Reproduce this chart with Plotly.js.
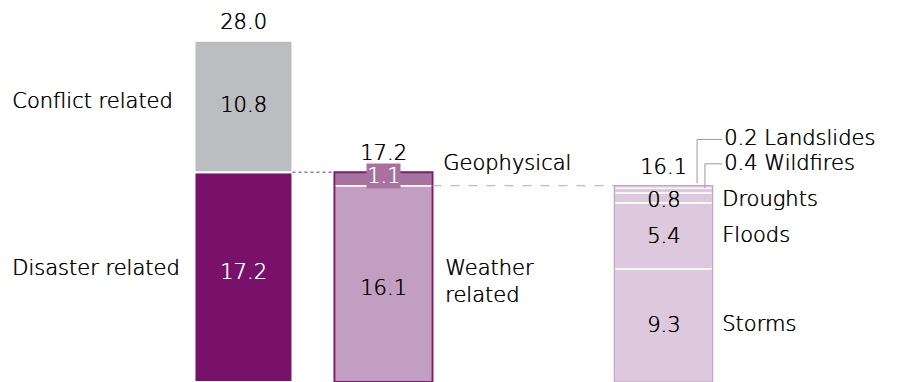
<!DOCTYPE html>
<html>
<head>
<meta charset="utf-8">
<script src="https://cdn.plot.ly/plotly-3.0.1.min.js"></script>
<style>html,body{margin:0;padding:0;background:#fff;}#chart{width:898px;height:382px;}</style>
</head>
<body>
<div id="chart"></div>
<script>
// ---- data ----
const barPositions = [0, 1, 3];
const bar1Names = ['Disaster related', 'Conflict related'];
const bar1Values = [17.2, 10.8];
const bar2Names = ['Weather related', 'Geophysical'];
const bar2Values = [16.1, 1.1];
const bar3Names = ['Storms', 'Floods', 'Droughts', 'Wildfires', 'Landslides'];
const bar3Values = [9.3, 5.4, 0.8, 0.4, 0.2];

// ---- styles ----
const FONT = 'DejaVu Sans';
const FS = 21;
const FW = 200;
const TXT = '#000000';
const W = 0.7;
const bar1Colors = ['#79116b', '#bcbdc0'];
const bar2Colors = ['#c29ec2', '#a8729f'];
const bar3Colors = ['#ddc9dd', '#ddc9dd', '#ddc9dd', '#ddc9dd', '#ddc9dd'];

const traces = [];
const annotations = [];
const f = (color) => ({family: FONT, size: FS, weight: FW, color: color || TXT,
  shadow: '0.5px 0 0 ' + (color || TXT)});

function stack(pos, values, colors, lw) {
  let base = 0;
  const centers = [], tops = [];
  values.forEach((v, i) => {
    traces.push({type: 'bar', x: [pos], y: [v], base: [base], width: W,
      marker: {color: colors[i], line: {color: '#ffffff', width: lw}},
      hoverinfo: 'skip', showlegend: false});
    centers.push(base + v / 2);
    base += v;
    tops.push(base);
  });
  return {centers, tops, total: base};
}
function outline(pos, total, color, lw) {
  traces.push({type: 'bar', x: [pos], y: [total], base: [0], width: W,
    marker: {color: 'rgba(0,0,0,0)', line: {color: color, width: lw}},
    hoverinfo: 'skip', showlegend: false});
}
function ann(o) {
  annotations.push(Object.assign({xref: 'x', yref: 'y', showarrow: false, font: f()}, o));
}

const s1 = stack(barPositions[0], bar1Values, bar1Colors, 2);
const s2 = stack(barPositions[1], bar2Values, bar2Colors, 1.5);
outline(barPositions[1], s2.total, '#7b1c6f', 2);
const s3 = stack(barPositions[2], bar3Values, bar3Colors, 1.5);
outline(barPositions[2], s3.total, '#c8a3c8', 1.5);

// connector lines
traces.push({type: 'scatter', mode: 'lines', x: [barPositions[0] + W / 2, barPositions[1] - W / 2],
  y: [s1.tops[0], s1.tops[0]], line: {color: '#b06aa8', width: 1.5, dash: 'dot'}, hoverinfo: 'skip', showlegend: false});
traces.push({type: 'scatter', mode: 'lines', x: [barPositions[1] + W / 2, barPositions[2] - W / 2],
  y: [s2.tops[0], s2.tops[0]], line: {color: '#cf96ca', width: 1, dash: 'dash'}, hoverinfo: 'skip', showlegend: false});

// leader lines for the two small segments of bar 3
const leaderLabelY = {Landslides: s3.total + 3.8, Wildfires: s3.total + 1.8};
const leaderX = {Landslides: barPositions[2] + 0.24, Wildfires: barPositions[2] + 0.296};
const labelX = barPositions[2] + 0.418;
['Landslides', 'Wildfires'].forEach(name => {
  const i = bar3Names.indexOf(name);
  const y0 = name === 'Landslides' ? s3.tops[i] + 0.2 : s3.tops[i];
  traces.push({type: 'scatter', mode: 'lines', x: [leaderX[name], leaderX[name], labelX],
    y: [y0, leaderLabelY[name], leaderLabelY[name]], line: {color: '#9a9a9a', width: 1},
    hoverinfo: 'skip', showlegend: false});
  ann({x: labelX, y: leaderLabelY[name], xanchor: 'left', xshift: 0, yshift: 1,
    text: bar3Values[i].toFixed(1) + ' ' + name});
});

// totals
[[barPositions[0], s1.total], [barPositions[1], s2.total], [barPositions[2], s3.total]].forEach(([p, t]) => {
  ann({x: p, y: t, yanchor: 'bottom', yshift: 5, text: t.toFixed(1)});
});

// bar 1 labels
ann({x: barPositions[0], y: s1.centers[1], yshift: 2, text: bar1Values[1].toFixed(1)});
ann({x: barPositions[0], y: s1.centers[0], yshift: 5, text: bar1Values[0].toFixed(1), font: f('#ffffff')});
ann({xref: 'paper', x: 10 / 898, xanchor: 'left', y: s1.centers[1], yshift: 6, text: bar1Names[1]});
ann({xref: 'paper', x: 10 / 898, xanchor: 'left', y: s1.centers[0], yshift: 9, text: bar1Names[0]});

// bar 2 labels
ann({x: barPositions[1], y: s2.centers[0], yshift: -4, text: bar2Values[0].toFixed(1)});
ann({x: barPositions[1], y: s2.centers[1], yshift: 3, text: bar2Values[1].toFixed(1),
  bgcolor: bar2Colors[1], borderpad: 0, font: f('#ffffff')});
ann({x: barPositions[1] + W / 2, y: s2.centers[1], xanchor: 'left', xshift: 9, yshift: 16, text: bar2Names[1]});
ann({x: barPositions[1] + W / 2, y: s2.centers[0], xanchor: 'left', xshift: 11, yshift: 2, align: 'left', text: 'Weather<br>related'});

// bar 3 labels
['Storms', 'Floods', 'Droughts'].forEach(name => {
  const i = bar3Names.indexOf(name);
  const ys = name === 'Droughts' ? -2 : 0;
  ann({x: barPositions[2], y: s3.centers[i], yshift: ys, text: bar3Values[i].toFixed(1)});
  ann({x: barPositions[2] + W / 2, y: s3.centers[i], xanchor: 'left', xshift: 8, yshift: ys + 1, text: name});
});

const layout = {
  width: 898, height: 382,
  margin: {l: 0, r: 0, t: 0, b: 0},
  paper_bgcolor: '#ffffff', plot_bgcolor: '#ffffff',
  barmode: 'overlay',
  showlegend: false,
  xaxis: {range: [-1.739, 4.675], visible: false, fixedrange: true},
  yaxis: {range: [0, 31.34], visible: false, fixedrange: true},
  annotations: annotations,
  font: f()
};
Plotly.newPlot('chart', traces, layout, {staticPlot: true});
</script>
</body>
</html>
